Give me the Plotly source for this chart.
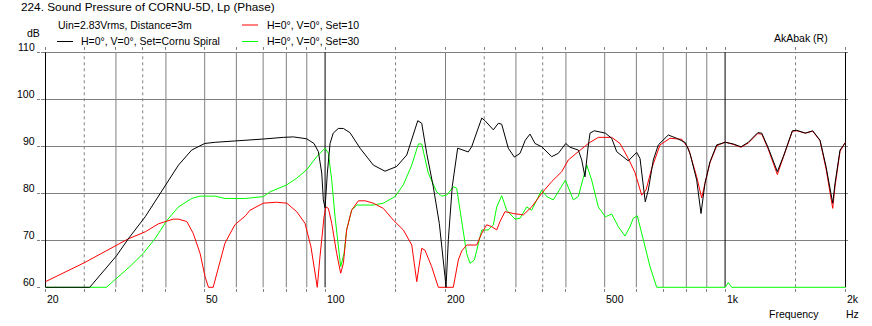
import math
import plotly.graph_objects as go

# ---------------- data ----------------
black_f = [20, 25.8, 30.1, 32.2, 35.5, 40.0, 43.0, 46.4, 50.0, 53.1,
           60.0, 70.1, 78.6, 83.3, 89.9, 93.8, 96.2, 98.1, 99.0, 100.0,
           101.3, 102.9, 104.8, 107.9, 111.1, 115.4, 122.3, 132.0, 141.2, 151.0,
           160.0, 166.2, 170.5, 174.4, 179.5, 186.4, 193.0, 199.4, 200.6, 203.3,
           207.9, 214.5, 221.6, 228.0, 232.5, 239.4, 246.4, 251.1, 263.4, 271.1,
           276.4, 287.1, 297.2, 307.1, 316.6, 325.3, 334.8, 348.0, 368.6, 382.9,
           399.6, 409.6, 429.6, 438.1, 446.4, 453.5, 459.5, 471.0, 501.9, 520.6,
           535.9, 572.8, 601.2, 612.8, 631.6, 642.8, 661.5, 680.9, 721.2, 756.8,
           795.3, 817.1, 849.2, 870.5, 890.6, 916.7, 952.9, 1001, 1048, 1096,
           1143, 1207, 1235, 1283, 1351, 1398, 1473, 1511, 1587, 1656,
           1727, 1788, 1830, 1858, 1883, 1938, 2000]
black_db = [60, 60, 66.7, 70.3, 75.0, 82.0, 86.0, 89.2, 90.6, 90.85,
            91.1, 91.55, 91.9, 92.0, 91.6, 90.6, 88.85, 84.3, 78.6, 76.9,
            84.3, 90.6, 92.8, 93.8, 93.8, 92.9, 89.6, 86.0, 84.7, 85.7,
            88.15, 92.8, 95.45, 94.9, 88.5, 81.4, 73.6, 62.3, 60, 70.1,
            81.4, 89.6, 89.2, 88.8, 89.9, 92.8, 96.0, 95.45, 93.5, 94.9,
            94.7, 89.6, 87.7, 88.5, 91.3, 92.6, 90.6, 89.9, 87.8, 88.5,
            90.6, 89.8, 89.2, 87.1, 83.5, 89.2, 92.8, 93.3, 92.8, 91.7,
            88.85, 86.9, 88.7, 87.4, 78.2, 80.7, 87.1, 90.3, 92.4, 91.7,
            90.8, 88.5, 82.8, 75.7, 82.1, 86.7, 90.3, 90.85, 90.5, 89.9,
            90.85, 92.9, 92.8, 89.6, 84.6, 87.8, 93.3, 93.4, 92.8, 93.3,
            91.3, 85.7, 80.7, 77.9, 82.1, 89.2, 90.8]

red_f = [20, 25.1, 32.2, 35.5, 38.3, 41.7, 43.0, 45.1, 46.8, 48.7,
         50.1, 51.1, 52.5, 54.1, 56.2, 59.5, 61.3, 63.2, 64.9, 70.1,
         75.7, 80.2, 84.9, 89.1, 92.2, 94.4, 95.6, 97.1, 99.4, 100.5,
         101.9, 103.9, 106.9, 109.4, 111.1, 113.2, 116.5, 121.1, 126.0, 132.0,
         139.8, 148.1, 156.9, 164.7, 169.5, 174.4, 177.7, 184.7, 191.9, 209.2,
         215.3, 219.5, 225.9, 239.4, 246.4, 253.5, 260.9, 268.6, 273.7, 281.7,
         295.5, 313.0, 328.5, 348.0, 368.6, 390.5, 405.6, 429.6, 455.1, 482.0,
         520.6, 546.1, 572.8, 595.4, 618.8, 634.3, 655.5, 687.5, 728.3, 779.0,
         809.2, 849.2, 874.0, 890.6, 916.7, 952.9, 1001, 1048, 1096, 1143,
         1207, 1235, 1283, 1351, 1398, 1473, 1511, 1587, 1656, 1727,
         1788, 1830, 1858, 1883, 1938, 2000]
red_db = [61.2, 65.3, 70.3, 71.8, 73.5, 74.5, 74.5, 74.0, 71.5, 67.2,
          62.3, 60, 60, 64.4, 69.4, 73.3, 74.3, 75.2, 76.4, 77.9,
          78.1, 77.9, 76.1, 73.6, 68.6, 63.0, 60, 66.5, 75.0, 77.1,
          76.8, 73.6, 67.2, 63.0, 65.1, 72.2, 76.4, 78.4, 78.4, 77.9,
          76.8, 74.3, 72.2, 69.0, 61.2, 68.3, 67.9, 64.4, 60, 60,
          65.8, 67.7, 69.0, 69.0, 71.5, 73.3, 72.9, 72.2, 74.0, 76.1,
          75.7, 75.4, 77.1, 80.0, 82.5, 84.6, 87.1, 88.85, 90.6, 91.9,
          91.9, 90.6, 87.4, 84.4, 79.6, 80.7, 85.3, 90.3, 91.7, 91.5,
          89.6, 83.5, 79.0, 82.1, 86.5, 90.1, 90.9, 90.4, 89.8, 90.7,
          92.7, 92.6, 89.3, 84.0, 87.5, 93.2, 93.3, 92.8, 93.2, 91.2,
          85.2, 79.8, 76.8, 81.5, 88.9, 90.9]

green_f = [20, 28.4, 30.1, 32.5, 35.1, 37.6, 40.2, 43.0, 46.4, 48.7,
           53.1, 56.2, 63.2, 70.1, 72.8, 80.2, 84.9, 89.9, 95.3, 100.0,
           101.9, 103.9, 105.9, 107.9, 109.4, 111.5, 113.2, 116.5, 120.0, 132.0,
           139.8, 149.6, 156.9, 164.7, 171.1, 174.4, 181.1, 190.1, 195.7, 201.4,
           209.2, 213.3, 219.5, 225.9, 230.3, 236.1, 246.4, 255.9, 263.4, 268.6,
           276.4, 284.5, 298.4, 307.1, 319.2, 328.5, 348.0, 358.1, 372.0, 398.8,
           417.4, 429.6, 450.9, 464.0, 482.0, 501.9, 520.6, 540.8, 562.0, 578.5,
           589.6, 603.4, 624.6, 649.1, 674.6, 1001, 1018.7, 1038.8, 2000]
green_db = [60, 60, 61.9, 64.4, 67.2, 70.4, 74.2, 77.1, 78.9, 79.4,
            79.4, 78.9, 78.9, 79.3, 80.3, 81.8, 83.2, 85.0, 87.8, 89.6,
            88.5, 82.8, 75.0, 69.4, 64.4, 67.2, 72.2, 76.4, 77.5, 77.5,
            77.9, 79.3, 81.8, 86.0, 90.5, 90.5, 84.3, 80.3, 79.4, 79.6,
            81.4, 81.1, 73.6, 67.2, 65.1, 65.8, 72.2, 72.2, 73.3, 77.1,
            79.5, 76.4, 74.5, 74.7, 77.1, 76.4, 80.7, 79.3, 78.6, 82.8,
            78.6, 79.3, 86.0, 82.8, 77.1, 75.0, 75.6, 72.9, 70.9, 72.9,
            74.7, 75.2, 70.1, 64.4, 60, 60, 61.0, 60, 60]

x_tick_vals = [20, 50, 100, 200, 500, 1000, 2000]
x_tick_text = ["20", "50", "100", "200", "500", "1k", "2k"]
y_tick_vals = [60, 70, 80, 90, 100, 110]

grid_solid = [30, 40, 50, 60, 70, 80, 90, 200, 300, 400, 500, 600, 700, 800, 900]
grid_dashed = [25, 35, 150, 250, 350, 1500]
grid_black = [20, 100, 1000, 2000]

series = [
    (green_f, green_db, "#00ff00", "H=0°, V=0°, Set=30"),
    (red_f, red_db, "#ff0000", "H=0°, V=0°, Set=10"),
    (black_f, black_db, "#000000", "H=0°, V=0°, Set=Cornu Spiral"),
]

# ---------------- layout geometry (page pixel coordinates) ----------------
PAGE_W, PAGE_H = 872, 326
PL, PT, PR, PB = 41, 51, 848, 288   # plot area edges on the page
FIG_W, FIG_H = PAGE_W, PAGE_H
ML, MT, MR, MB = PL, PT, PAGE_W - PR, PAGE_H - PB
W = PR - PL
H = PB - PT
PX_PER_DEC = 400.0
x0_log = math.log10(20) - 4.5 / PX_PER_DEC
x1_log = x0_log + W / PX_PER_DEC
PX_PER_DB = 4.7
y0_db = 60 - 0.7 / PX_PER_DB
y1_db = y0_db + H / PX_PER_DB

GRAY = "#808080"
FONT = "Liberation Sans"
FS = 10.5


def px(x):
    return (x - PL) / W


def py(y):
    return (PB - y) / H


fig = go.Figure()
for f, db, col, name in series:
    fig.add_trace(go.Scatter(x=f, y=db, mode="lines", name=name,
                             line=dict(color=col, width=1),
                             showlegend=False, hoverinfo="skip"))

shapes = []
for f in grid_solid:
    shapes.append(dict(type="line", xref="x", yref="y", x0=f, x1=f, y0=60, y1=110,
                       line=dict(color=GRAY, width=1), layer="between"))
for f in grid_dashed:
    shapes.append(dict(type="line", xref="x", yref="y", x0=f, x1=f, y0=60, y1=110,
                       line=dict(color=GRAY, width=1, dash="3px,3px"), layer="between"))
for f in grid_black:
    shapes.append(dict(type="line", xref="x", yref="y", x0=f, x1=f, y0=60, y1=110,
                       line=dict(color="black", width=1), layer="between"))

# legend line samples
shapes.append(dict(type="line", xref="paper", yref="paper", x0=px(57), x1=px(73),
                   y0=py(41.5), y1=py(41.5), line=dict(color="#000000", width=1)))
shapes.append(dict(type="line", xref="paper", yref="paper", x0=px(242), x1=px(258),
                   y0=py(25), y1=py(25), line=dict(color="#ff0000", width=1)))
shapes.append(dict(type="line", xref="paper", yref="paper", x0=px(242), x1=px(258),
                   y0=py(41.5), y1=py(41.5), line=dict(color="#00ff00", width=1)))

annotations = []


def txt(x, y, s, xanchor="left", size=FS):
    annotations.append(dict(x=px(x), y=py(y), xref="paper", yref="paper", text=s,
                            showarrow=False, xanchor=xanchor, yanchor="middle",
                            borderpad=0, font=dict(family=FONT, size=size, color="black")))


txt(20, 7, "224. Sound Pressure of CORNU-5D, Lp (Phase)", size=11.8)
txt(57, 25, "Uin=2.83Vrms, Distance=3m")
txt(80, 41.5, series[2][3])
txt(266, 25, series[1][3])
txt(266, 41.5, series[0][3])
txt(773, 38, "AkAbak (R)")
txt(25.5, 33, "dB")
txt(768, 314, "Frequency")
txt(845, 314, "Hz")

for v, s in zip(x_tick_vals, x_tick_text):
    annotations.append(dict(x=math.log10(v), y=py(299), xref="x", yref="paper", text=s,
                            showarrow=False, xanchor="left", yanchor="middle", xshift=0.5,
                            borderpad=0, font=dict(family=FONT, size=FS, color="black")))
for v in y_tick_vals:
    annotations.append(dict(x=px(35.5), y=v, xref="paper", yref="y", text=str(v),
                            showarrow=False, xanchor="right", yanchor="middle", yshift=5,
                            borderpad=0, font=dict(family=FONT, size=FS, color="black")))

fig.update_layout(
    width=FIG_W, height=FIG_H,
    margin=dict(l=ML, r=MR, t=MT, b=MB, pad=0),
    paper_bgcolor="white", plot_bgcolor="white",
    showlegend=False,
    shapes=shapes, annotations=annotations,
    xaxis=dict(type="log", range=[x0_log, x1_log], showgrid=False, zeroline=False,
               tickvals=grid_black + grid_solid + grid_dashed, showticklabels=False,
               ticks="outside", ticklen=3, tickcolor=GRAY, tickwidth=1,
               showline=True, linecolor="rgba(0,0,0,0)", linewidth=1, mirror="ticks",
               fixedrange=True),
    yaxis=dict(range=[y0_db, y1_db], showgrid=True, gridcolor=GRAY, gridwidth=1,
               zeroline=False, tickvals=y_tick_vals, showticklabels=False,
               ticks="outside", ticklen=3, tickcolor=GRAY, tickwidth=1,
               fixedrange=True),
)

# remove the page's default 8px body margin so the figure sits at the window's corner,
# and hide the interactive mode bar
fig.write_html("out.html", config={"displayModeBar": False},
               post_script="document.body.style.margin='0px';")
